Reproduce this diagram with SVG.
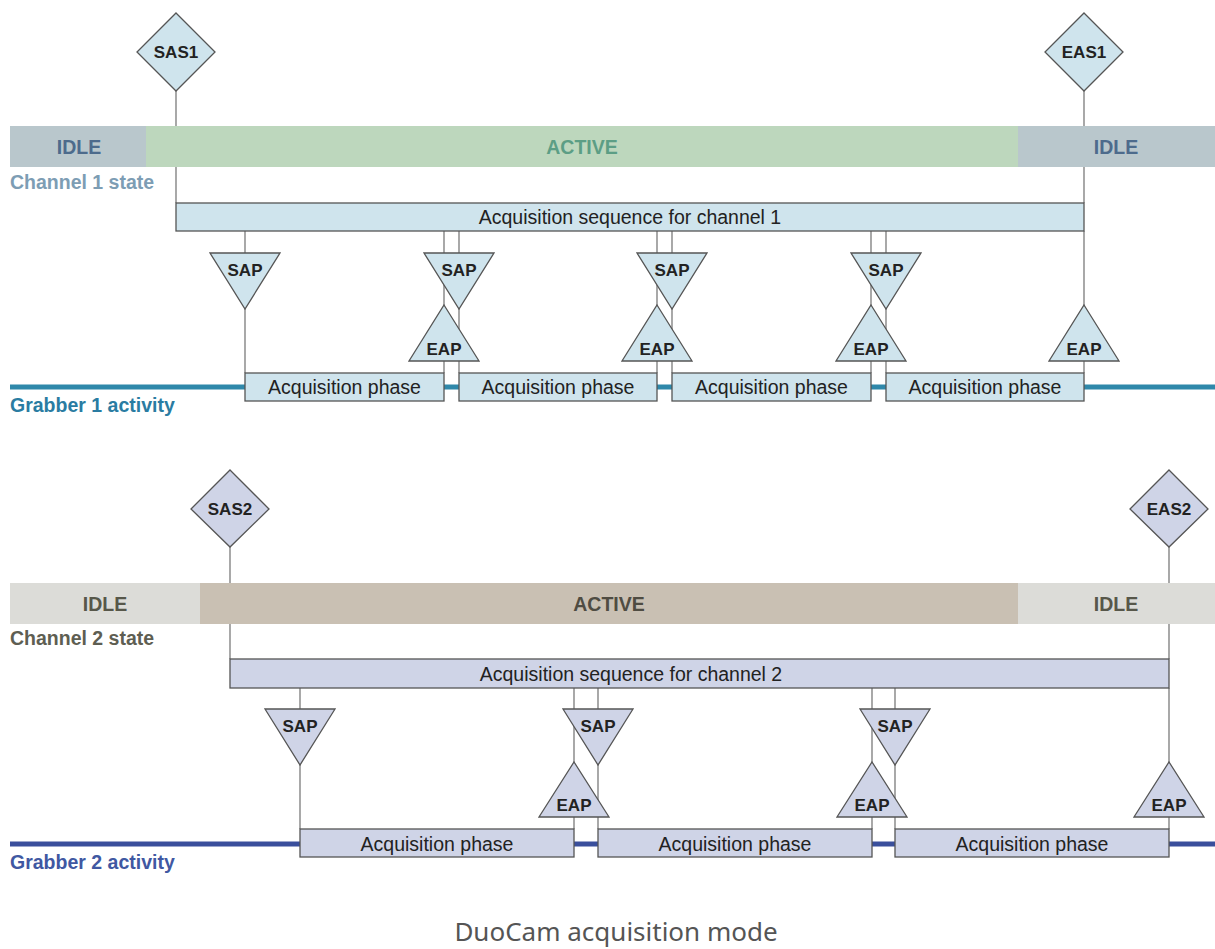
<svg xmlns="http://www.w3.org/2000/svg" width="1215" height="949" viewBox="0 0 1215 949">
  <style>
    .link { stroke: #7a7a7a; stroke-width: 1.3; fill: none; }
    .box1 { fill: #cfe4ed; stroke: #555; stroke-width: 1.3; }
    .box2 { fill: #cfd4e7; stroke: #555; stroke-width: 1.3; }
    .tri { font-family: "Liberation Sans", Arial, sans-serif; font-weight: bold; font-size: 17px; fill: #222; text-anchor: middle; }
    .phase { font-family: "Liberation Sans", Arial, sans-serif; font-size: 19.5px; fill: #222; text-anchor: middle; }
    .state { font-family: "Liberation Sans", Arial, sans-serif; font-weight: bold; font-size: 19.5px; text-anchor: middle; }
    .side { font-family: "Liberation Sans", Arial, sans-serif; font-weight: bold; font-size: 19.5px; }
  </style>

  <rect width="1215" height="949" fill="#ffffff"/>

  <!-- ===== Channel 1 ===== -->
  <g id="connectors-1">
    <line class="link" x1="176" y1="91" x2="176" y2="203"/>
    <line class="link" x1="1084" y1="91" x2="1084" y2="203"/>
    <line class="link" x1="245" y1="231" x2="245" y2="373"/>
    <line class="link" x1="444" y1="231" x2="444" y2="373"/>
    <line class="link" x1="459" y1="231" x2="459" y2="373"/>
    <line class="link" x1="657" y1="231" x2="657" y2="373"/>
    <line class="link" x1="672" y1="231" x2="672" y2="373"/>
    <line class="link" x1="871" y1="231" x2="871" y2="373"/>
    <line class="link" x1="886" y1="231" x2="886" y2="373"/>
    <line class="link" x1="1084" y1="231" x2="1084" y2="373"/>
  </g>

  <g id="channel1-state">
    <rect x="10" y="126" width="137" height="41" fill="#b9c7cc"/>
    <rect x="146" y="126" width="873" height="41" fill="#bdd7bd"/>
    <rect x="1018" y="126" width="197" height="41" fill="#b9c7cc"/>
    <text class="state" x="79" y="154" fill="#4d6b8c">IDLE</text>
    <text class="state" x="582" y="154" fill="#5c9e85">ACTIVE</text>
    <text class="state" x="1116" y="154" fill="#4d6b8c">IDLE</text>
    <text class="side" x="10" y="189" fill="#7d9db4">Channel 1 state</text>
  </g>

  <g id="grabber1-activity">
    <line x1="10" y1="387" x2="1215" y2="387" stroke="#2f88aa" stroke-width="5"/>
    <text class="side" x="10" y="412" fill="#2a7ca2">Grabber 1 activity</text>
  </g>

  <g id="SAS1">
    <polygon class="box1" points="176,13 215,52 176,91 137,52"/>
    <text class="tri" x="176" y="58">SAS1</text>
  </g>
  <g id="EAS1">
    <polygon class="box1" points="1084,13 1123,52 1084,91 1045,52"/>
    <text class="tri" x="1084" y="58">EAS1</text>
  </g>

  <g id="sequence1">
    <rect class="box1" x="176" y="203" width="908" height="28"/>
    <text class="phase" x="630" y="224">Acquisition sequence for channel 1</text>
  </g>

  <g id="phases1">
    <rect class="box1" x="245" y="373" width="199" height="28"/>
    <text class="phase" x="344.5" y="394">Acquisition phase</text>
    <rect class="box1" x="459" y="373" width="198" height="28"/>
    <text class="phase" x="558" y="394">Acquisition phase</text>
    <rect class="box1" x="672" y="373" width="199" height="28"/>
    <text class="phase" x="771.5" y="394">Acquisition phase</text>
    <rect class="box1" x="886" y="373" width="198" height="28"/>
    <text class="phase" x="985" y="394">Acquisition phase</text>
  </g>

  <g id="SAP1-1"><polygon class="box1" points="210,253 280,253 245,309"/><text class="tri" x="245" y="276">SAP</text></g>
  <g id="SAP1-2"><polygon class="box1" points="424,253 494,253 459,309"/><text class="tri" x="459" y="276">SAP</text></g>
  <g id="SAP1-3"><polygon class="box1" points="637,253 707,253 672,309"/><text class="tri" x="672" y="276">SAP</text></g>
  <g id="SAP1-4"><polygon class="box1" points="851,253 921,253 886,309"/><text class="tri" x="886" y="276">SAP</text></g>

  <g id="EAP1-1"><polygon class="box1" points="444,305 479,361 409,361"/><text class="tri" x="444" y="355">EAP</text></g>
  <g id="EAP1-2"><polygon class="box1" points="657,305 692,361 622,361"/><text class="tri" x="657" y="355">EAP</text></g>
  <g id="EAP1-3"><polygon class="box1" points="871,305 906,361 836,361"/><text class="tri" x="871" y="355">EAP</text></g>
  <g id="EAP1-4"><polygon class="box1" points="1084,305 1119,361 1049,361"/><text class="tri" x="1084" y="355">EAP</text></g>

  <!-- ===== Channel 2 ===== -->
  <g id="connectors-2">
    <line class="link" x1="230" y1="547" x2="230" y2="659"/>
    <line class="link" x1="1169" y1="547" x2="1169" y2="659"/>
    <line class="link" x1="300" y1="688" x2="300" y2="829"/>
    <line class="link" x1="574" y1="688" x2="574" y2="829"/>
    <line class="link" x1="598" y1="688" x2="598" y2="829"/>
    <line class="link" x1="872" y1="688" x2="872" y2="829"/>
    <line class="link" x1="895" y1="688" x2="895" y2="829"/>
    <line class="link" x1="1169" y1="688" x2="1169" y2="829"/>
  </g>

  <g id="channel2-state">
    <rect x="10" y="583" width="191" height="41" fill="#dcdcd8"/>
    <rect x="200" y="583" width="819" height="41" fill="#c9c0b3"/>
    <rect x="1018" y="583" width="197" height="41" fill="#dcdcd8"/>
    <text class="state" x="105" y="611" fill="#57574a">IDLE</text>
    <text class="state" x="609" y="611" fill="#4f4c42">ACTIVE</text>
    <text class="state" x="1116" y="611" fill="#57574a">IDLE</text>
    <text class="side" x="10" y="645" fill="#5e5e52">Channel 2 state</text>
  </g>

  <g id="grabber2-activity">
    <line x1="10" y1="844" x2="1215" y2="844" stroke="#3a4f9c" stroke-width="5"/>
    <text class="side" x="10" y="869" fill="#4058a2">Grabber 2 activity</text>
  </g>

  <g id="SAS2">
    <polygon class="box2" points="230,470 269,509 230,547 191,509"/>
    <text class="tri" x="230" y="515">SAS2</text>
  </g>
  <g id="EAS2">
    <polygon class="box2" points="1169,470 1208,509 1169,547 1130,509"/>
    <text class="tri" x="1169" y="515">EAS2</text>
  </g>

  <g id="sequence2">
    <rect class="box2" x="230" y="659" width="939" height="29"/>
    <text class="phase" x="631" y="681">Acquisition sequence for channel 2</text>
  </g>

  <g id="phases2">
    <rect class="box2" x="300" y="829" width="274" height="28"/>
    <text class="phase" x="437" y="851">Acquisition phase</text>
    <rect class="box2" x="598" y="829" width="274" height="28"/>
    <text class="phase" x="735" y="851">Acquisition phase</text>
    <rect class="box2" x="895" y="829" width="274" height="28"/>
    <text class="phase" x="1032" y="851">Acquisition phase</text>
  </g>

  <g id="SAP2-1"><polygon class="box2" points="265,709 335,709 300,765"/><text class="tri" x="300" y="732">SAP</text></g>
  <g id="SAP2-2"><polygon class="box2" points="563,709 633,709 598,765"/><text class="tri" x="598" y="732">SAP</text></g>
  <g id="SAP2-3"><polygon class="box2" points="860,709 930,709 895,765"/><text class="tri" x="895" y="732">SAP</text></g>

  <g id="EAP2-1"><polygon class="box2" points="574,762 609,817 539,817"/><text class="tri" x="574" y="811">EAP</text></g>
  <g id="EAP2-2"><polygon class="box2" points="872,762 907,817 837,817"/><text class="tri" x="872" y="811">EAP</text></g>
  <g id="EAP2-3"><polygon class="box2" points="1169,762 1204,817 1134,817"/><text class="tri" x="1169" y="811">EAP</text></g>

  <text x="616" y="941" text-anchor="middle" font-family="'Noto Sans', 'Open Sans', sans-serif" font-size="26" fill="#555">DuoCam acquisition mode</text>
</svg>
